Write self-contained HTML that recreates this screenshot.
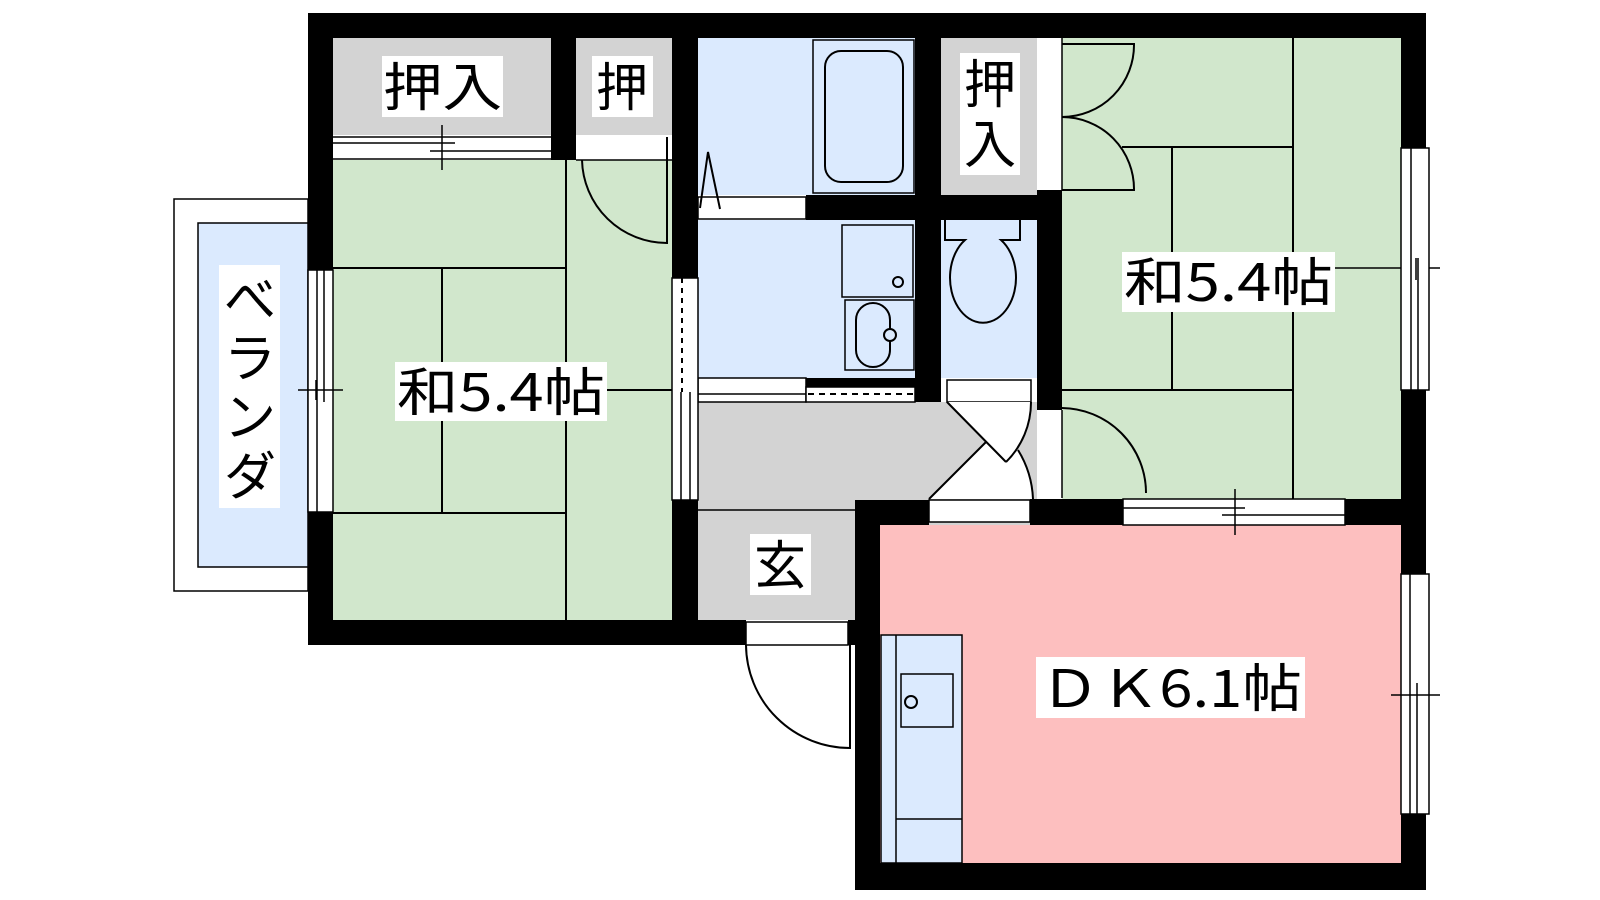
<!DOCTYPE html>
<html><head><meta charset="utf-8"><style>
html,body{margin:0;padding:0;background:#fff;width:1600px;height:900px;overflow:hidden}
svg{display:block}
text{font-family:"Noto Sans CJK JP","Liberation Sans",sans-serif;fill:#000}
</style></head><body>
<svg width="1600" height="900" viewBox="0 0 1600 900" xmlns="http://www.w3.org/2000/svg">
<g stroke="#000" stroke-width="2" fill="none">
<rect x="174" y="199" width="134" height="392" fill="#fff" stroke-width="1.5"/>
<rect x="198" y="223" width="110" height="344" fill="#dbeafe" stroke-width="1.5"/>
</g>
<rect x="333" y="160" width="339" height="460" fill="#d1e7cc"/>
<rect x="333" y="38" width="218" height="97" fill="#d3d3d3"/>
<rect x="576" y="38" width="96" height="97" fill="#d3d3d3"/>
<rect x="333" y="135" width="218" height="25" fill="#fff"/>
<rect x="576" y="135" width="96" height="25" fill="#fff"/>
<rect x="698" y="38" width="217" height="157" fill="#dbeafe"/>
<rect x="698" y="220" width="217" height="158" fill="#dbeafe"/>
<rect x="941" y="38" width="96" height="157" fill="#d3d3d3"/>
<rect x="941" y="220" width="96" height="158" fill="#dbeafe"/>
<rect x="698" y="402" width="339" height="218" fill="#d3d3d3"/>
<rect x="1062" y="38" width="339" height="461" fill="#d1e7cc"/>
<rect x="880" y="525" width="521" height="338" fill="#fdbfbf"/>
<rect x="1037" y="38" width="25" height="152" fill="#fff"/>
<rect x="1037" y="410" width="25" height="88" fill="#fff"/>

<g stroke="#000" stroke-width="2" fill="none">
<line x1="333" y1="268" x2="566" y2="268"/>
<line x1="566" y1="160" x2="566" y2="620"/>
<line x1="442" y1="268" x2="442" y2="513"/>
<line x1="333" y1="513" x2="566" y2="513"/>
<line x1="566" y1="390" x2="672" y2="390"/>
<line x1="333" y1="137" x2="551" y2="137" stroke-width="1.5"/>
<line x1="333" y1="143" x2="455" y2="143" stroke-width="1.5"/>
<line x1="430" y1="151" x2="551" y2="151" stroke-width="1.5"/>
<line x1="333" y1="159" x2="551" y2="159" stroke-width="1.5"/>
<line x1="442" y1="125" x2="442" y2="170" stroke-width="1.5"/>
<line x1="576" y1="160" x2="672" y2="160" stroke-width="1.5"/>
<path d="M582,160 A85,85 0 0,0 667,243 L667,137" />
<rect x="813" y="40" width="101" height="153" stroke-width="1.5"/>
<rect x="825" y="51" width="78" height="131" rx="16"/>
<rect x="698" y="197" width="108" height="22" fill="#fff" stroke-width="1.5"/>
<path d="M700,208 L708,152 L720,209"/>
<rect x="842" y="225" width="71" height="72" stroke-width="1.5"/>
<circle cx="898" cy="282" r="5"/>
<rect x="845" y="300" width="69" height="70" stroke-width="1.5"/>
<rect x="856" y="303" width="34" height="64" rx="17"/>
<circle cx="890" cy="335" r="6" fill="#dbeafe"/>
<path d="M945,220 L945,240 L965,240 A33,45 0 1,0 1001,240 L1020,240 L1020,220"/>
<rect x="698" y="378" width="108" height="24" fill="#fff" stroke-width="1.5"/>
<line x1="698" y1="394" x2="806" y2="394" stroke-width="1.5"/>
<rect x="806" y="387" width="109" height="15" fill="#fff" stroke-width="1.5"/>
<line x1="808" y1="394" x2="915" y2="394" stroke-dasharray="6,5"/>
<rect x="947" y="380" width="84" height="22" fill="#fff" stroke-width="1.5"/>
<path d="M947,402 L1031,402 A84,84 0 0,1 1006,462 L986,442 Z" fill="#fff" stroke="none"/>
<path d="M929,499 L986,442 L1006,462 L1018,450 A101,101 0 0,1 1033,499 Z" fill="#fff" stroke="none"/>
<path d="M947,402 L1006,462 M1031,402 A84,84 0 0,1 1006,462"/>
<path d="M929,499 L986,442 M1018,450 A101,101 0 0,1 1033,499"/>
<line x1="698" y1="510" x2="855" y2="510" stroke-width="1.5"/>
<rect x="929" y="500" width="101" height="22" fill="#fff" stroke-width="1.5"/>
<rect x="672" y="278" width="26" height="222" fill="#fff" stroke-width="1.5"/>
<line x1="682" y1="278" x2="682" y2="392" stroke-dasharray="5,5"/>
<line x1="681" y1="392" x2="681" y2="500" stroke-width="1.5"/>
<line x1="690" y1="392" x2="690" y2="500" stroke-width="1.5"/>
<rect x="308" y="270" width="25" height="242" fill="#fff" stroke-width="1.5"/>
<line x1="317" y1="270" x2="317" y2="512" stroke-width="1.5"/>
<line x1="324" y1="270" x2="324" y2="402" stroke-width="1.5"/>
<line x1="298" y1="390" x2="343" y2="390" stroke-width="1.5"/>
<line x1="316" y1="380" x2="316" y2="400" stroke-width="1.5"/>
<line x1="1293" y1="38" x2="1293" y2="499"/>
<line x1="1122" y1="147" x2="1293" y2="147"/>
<line x1="1172" y1="147" x2="1172" y2="390"/>
<line x1="1062" y1="390" x2="1293" y2="390"/>
<line x1="1335" y1="268" x2="1440" y2="268" stroke-width="1.5"/>
<line x1="1062" y1="38" x2="1062" y2="190" stroke-width="1.5"/>
<path d="M1062,44 L1134,44 A72,72 0 0,1 1062,117 A72,72 0 0,1 1134,190 L1062,190"/>
<line x1="1062" y1="410" x2="1062" y2="498" stroke-width="1.5"/>
<path d="M1062,408 A85,85 0 0,1 1146,493"/>
<rect x="1401" y="148" width="28" height="242" fill="#fff" stroke-width="1.5"/>
<line x1="1411" y1="148" x2="1411" y2="390" stroke-width="1.5"/>
<line x1="1418" y1="258" x2="1418" y2="390" stroke-width="1.5"/>
<line x1="1416" y1="258" x2="1416" y2="280" stroke-width="1.5"/>
<rect x="1123" y="499" width="222" height="26" fill="#fff" stroke-width="1.5"/>
<line x1="1123" y1="508" x2="1245" y2="508" stroke-width="1.5"/>
<line x1="1222" y1="515" x2="1345" y2="515" stroke-width="1.5"/>
<line x1="1235" y1="489" x2="1235" y2="535" stroke-width="1.5"/>
<rect x="1401" y="574" width="28" height="240" fill="#fff" stroke-width="1.5"/>
<line x1="1410" y1="574" x2="1410" y2="814" stroke-width="1.5"/>
<line x1="1417" y1="683" x2="1417" y2="814" stroke-width="1.5"/>
<line x1="1391" y1="695" x2="1440" y2="695" stroke-width="1.5"/>
<rect x="881" y="635" width="81" height="228" fill="#dbeafe" stroke-width="1.5"/>
<line x1="896" y1="635" x2="896" y2="863" stroke-width="1.5"/>
<line x1="896" y1="819" x2="962" y2="819" stroke-width="1.5"/>
<rect x="901" y="674" width="52" height="53" stroke-width="1.5"/>
<circle cx="911" cy="702" r="6"/>
<rect x="746" y="622" width="102" height="23" fill="#fff" stroke-width="1.5"/>
<path d="M746,645 A104,104 0 0,0 850,748 L850,645"/>
</g>

<g fill="#000">
<rect x="308" y="13" width="1117" height="25"/>
<rect x="308" y="13" width="25" height="257"/>
<rect x="308" y="512" width="25" height="133"/>
<rect x="308" y="620" width="438" height="25"/>
<rect x="848" y="620" width="7" height="25"/>
<rect x="551" y="38" width="25" height="122"/>
<rect x="672" y="38" width="26" height="240"/>
<rect x="672" y="500" width="26" height="145"/>
<rect x="915" y="38" width="26" height="364"/>
<rect x="806" y="195" width="254" height="25"/>
<rect x="806" y="378" width="109" height="9"/>
<rect x="1037" y="190" width="25" height="220"/>
<rect x="1401" y="13" width="25" height="135"/>
<rect x="1401" y="390" width="25" height="184"/>
<rect x="1401" y="814" width="25" height="76"/>
<rect x="855" y="500" width="74" height="25"/>
<rect x="1030" y="499" width="93" height="26"/>
<rect x="1345" y="499" width="56" height="26"/>
<rect x="855" y="500" width="25" height="390"/>
<rect x="855" y="863" width="571" height="27"/>
</g>

<g font-size="52">
<rect x="382" y="56" width="121" height="61" fill="#fff"/>
<text x="383" y="106" textLength="119" lengthAdjust="spacingAndGlyphs">押入</text>
<rect x="592" y="56" width="61" height="61" fill="#fff"/>
<text x="596" y="106">押</text>
<rect x="960" y="53" width="60" height="122" fill="#fff"/>
<text x="964" y="103">押</text>
<text x="964" y="163">入</text>
<rect x="219" y="265" width="61" height="243" fill="#fff"/>
<text x="224" y="318">べ</text>
<text x="224" y="377">ラ</text>
<text x="224" y="436">ン</text>
<text x="224" y="495">ダ</text>
<rect x="395" y="362" width="212" height="59" fill="#fff"/>
<text x="397" y="411" textLength="208" lengthAdjust="spacingAndGlyphs">和5.4帖</text>
<rect x="1122" y="252" width="213" height="60" fill="#fff"/>
<text x="1124" y="301" textLength="209" lengthAdjust="spacingAndGlyphs">和5.4帖</text>
<rect x="750" y="534" width="61" height="61" fill="#fff"/>
<text x="754" y="584">玄</text>
<rect x="1036" y="657" width="269" height="61" fill="#fff"/>
<text x="1040" y="707" textLength="262" lengthAdjust="spacingAndGlyphs">ＤＫ6.1帖</text>
</g>
</svg>
</body></html>
